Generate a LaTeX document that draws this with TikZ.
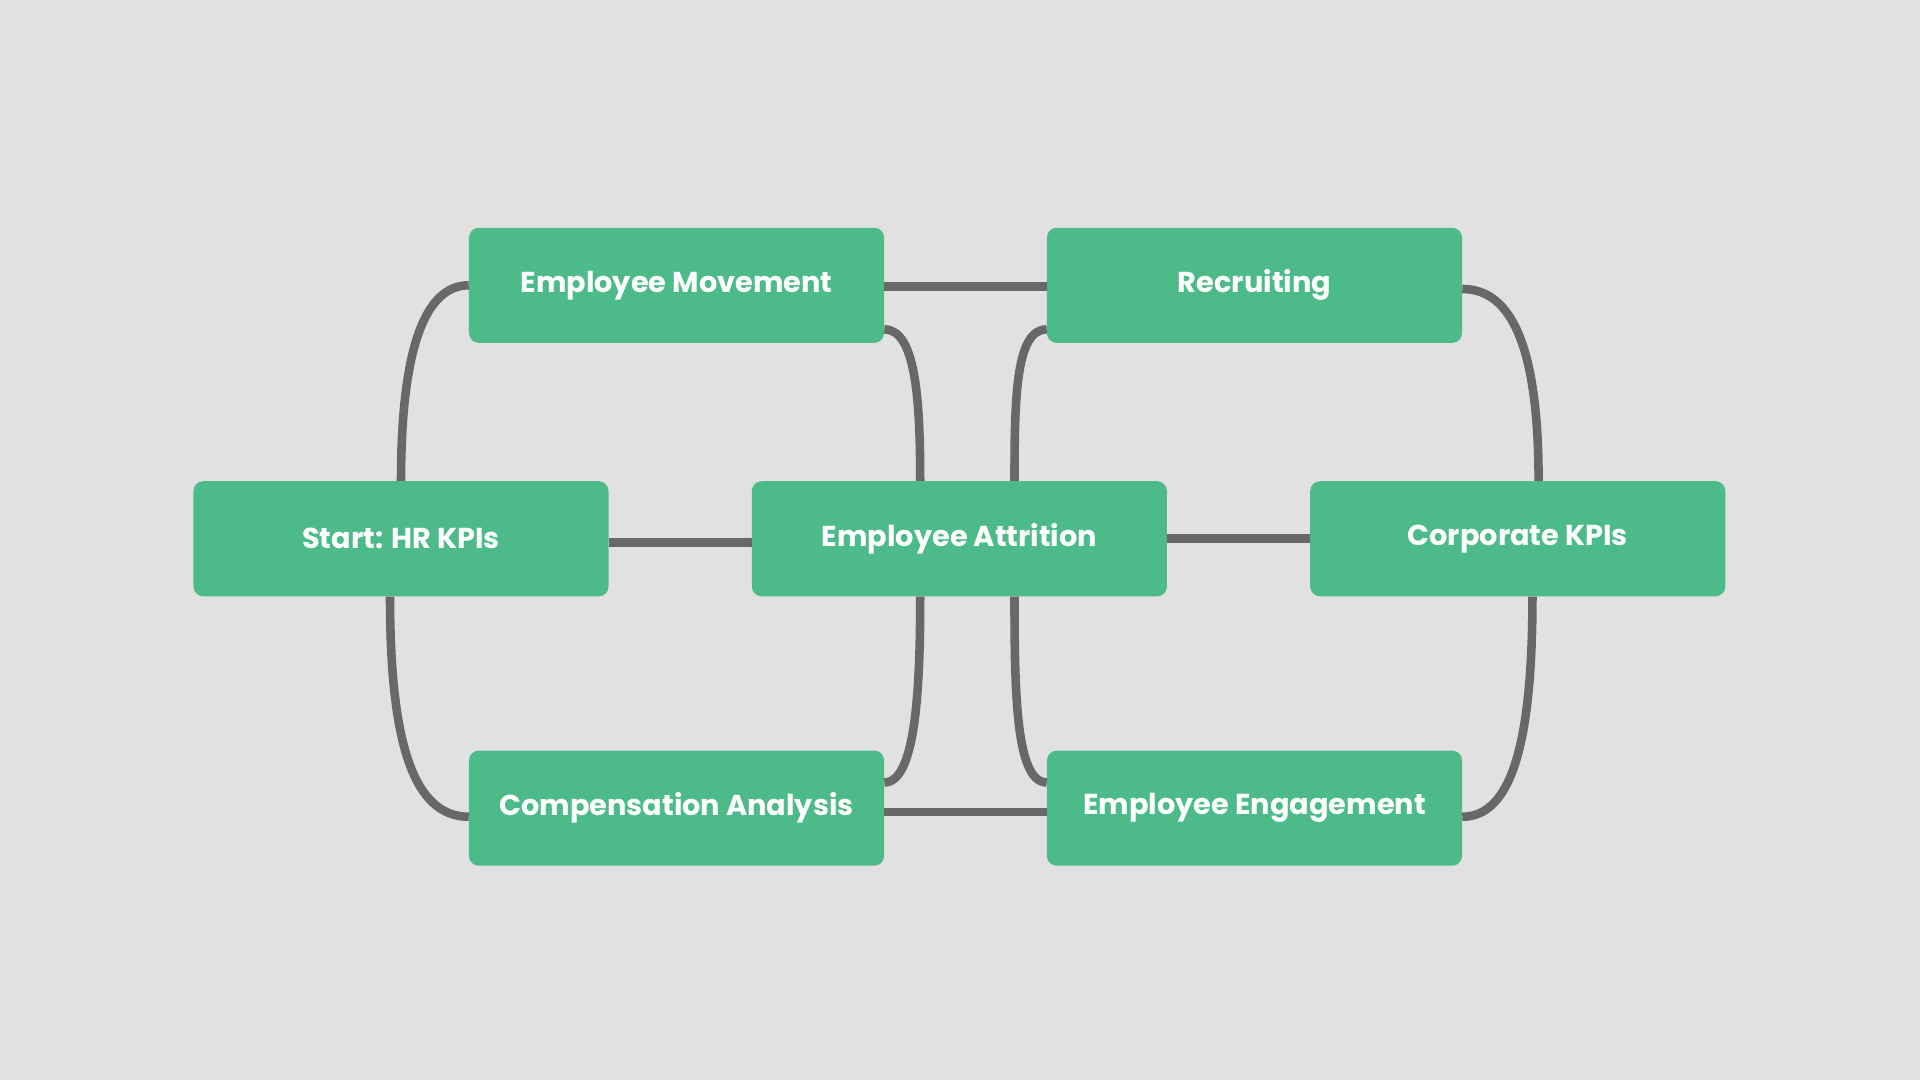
\documentclass[tikz,border=0pt]{standalone}
\usepackage{fontspec}
\setmainfont{Poppins}
\usepackage{xcolor}
\usetikzlibrary{arrows.meta, calc, positioning}
\definecolor{boxgreen}{RGB}{76,187,137}
\definecolor{linegray}{RGB}{104,104,104}
\definecolor{canvasgray}{RGB}{225,225,225}

\begin{document}
\begin{tikzpicture}[x=1pt, y=-1pt,
    box/.style={fill=boxgreen, rounded corners=8pt, minimum width=339pt, minimum height=94pt,
                inner sep=0pt, text=white, font=\fontsize{23.5}{28}\selectfont\bfseries},
    link/.style={draw=linegray, line width=7pt}]
    % Canvas
    \fill[canvasgray] (0,0) rectangle (1568,882);
    \useasboundingbox (0,0) rectangle (1568,882);

    % Boxes
    \node[box] (start)   at (327.5,440)  {Start: HR KPIs};
    \node[box] (attr)    at (783.5,440)  {Employee Attrition};
    \node[box] (corp)    at (1239.5,440) {Corporate KPIs};
    \node[box] (move)    at (552.5,233)  {Employee Movement};
    \node[box] (recruit) at (1024.5,233) {Recruiting};
    \node[box] (comp)    at (552.5,660)  {Compensation Analysis};
    \node[box] (engage)  at (1024.5,660) {Employee Engagement};

    % Straight links
    \draw[link] ([yshift=-3pt]start.east) -- ([yshift=-3pt]attr.west);
    \draw[link] (attr.east) -- (corp.west);
    \draw[link] ([yshift=-1pt]move.east) -- ([yshift=-1pt]recruit.west);
    \draw[link] ([yshift=-3pt]comp.east) -- ([yshift=-3pt]engage.west);

    % Curved links, left loop
    \draw[link] (start.north) to[out=90, in=180, out distance=110pt, in distance=35pt] (move.west);
    \draw[link] ([xshift=-9pt]start.south) to[out=-90, in=180, out distance=120pt, in distance=45pt] ([yshift=-7pt]comp.west);
    \draw[link] ([yshift=-36pt]move.east) to[out=0, in=90, out distance=25pt, in distance=70pt] ([xshift=-32pt]attr.north);
    \draw[link] ([xshift=-32pt]attr.south) to[out=-90, in=0, out distance=80pt, in distance=25pt] ([yshift=21pt]comp.east);

    % Curved links, right loop
    \draw[link] ([yshift=-36pt]recruit.west) to[out=180, in=90, out distance=25pt, in distance=70pt] ([xshift=45pt]attr.north);
    \draw[link] ([xshift=45pt]attr.south) to[out=-90, in=180, out distance=80pt, in distance=25pt] ([yshift=21pt]engage.west);
    \draw[link] ([yshift=-3pt]recruit.east) to[out=0, in=90, out distance=40pt, in distance=110pt] ([xshift=17pt]corp.north);
    \draw[link] ([xshift=12pt]corp.south) to[out=-90, in=0, out distance=120pt, in distance=40pt] ([yshift=-7pt]engage.east);
\end{tikzpicture}
\end{document}
